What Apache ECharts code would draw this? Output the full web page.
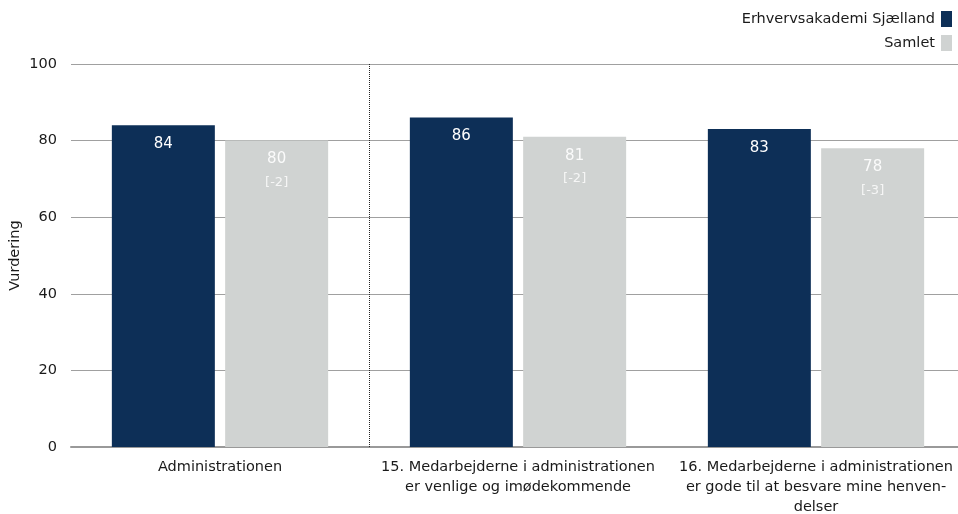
<!DOCTYPE html>
<html>
<head>
<meta charset="utf-8">
<script src="https://cdn.jsdelivr.net/npm/echarts@6/dist/echarts.min.js"></script>
<style>
  html, body { margin: 0; padding: 0; background: #fff; }
  #main { width: 958px; height: 514px; }
</style>
</head>
<body>
<div id="main"></div>
<script>
var categories = [
  'Administrationen',
  '15. Medarbejderne i administrationen\ner venlige og imødekommende',
  '16. Medarbejderne i administrationen\ner gode til at besvare mine henven-\ndelser'
];
var schoolValues = [84, 86, 83];
var totalValues = [80, 81, 78];
var totalDiffs = ['[-2]', '[-2]', '[-3]'];
// dotted separator after the first category (position on a 0..3 helper axis)
var separatorAt = [1];

var font = 'DejaVu Sans';
var textColor = '#1a1a1a';
var myChart = echarts.init(document.getElementById('main'));

var option = {
  animation: false,
  textStyle: { fontFamily: font },
  legend: {
    orient: 'vertical',
    right: 1,
    top: 6,
    align: 'right',
    itemWidth: 11,
    itemHeight: 16,
    itemGap: 8,
    icon: 'rect',
    textStyle: { fontFamily: font, fontSize: 14.5, color: textColor, padding: [0, 1, 0, 0] },
    data: ['Erhvervsakademi Sjælland', 'Samlet']
  },
  grid: { left: 71, width: 894, top: 64, bottom: 67, outerBoundsMode: 'none', containLabel: false },
  xAxis: [
    {
      type: 'category',
      data: categories,
      axisTick: { show: false },
      axisLine: { lineStyle: { color: '#999', width: 2 } },
      axisLabel: { color: textColor, fontSize: 14.5, lineHeight: 20, margin: 10, interval: 0 }
    },
    {
      type: 'value',
      min: 0,
      max: 3,
      show: false
    }
  ],
  yAxis: {
    type: 'value',
    min: 0,
    max: 100,
    interval: 20,
    name: 'Vurdering',
    nameLocation: 'middle',
    nameGap: 48,
    nameMoveOverlap: false,
    nameTextStyle: { color: textColor, fontSize: 14.5 },
    axisLine: { show: false },
    axisTick: { show: false },
    axisLabel: { color: textColor, fontSize: 14.5, margin: 14 },
    splitLine: { lineStyle: { color: '#a0a0a0', width: 1 } }
  },
  series: [
    {
      name: 'Erhvervsakademi Sjælland',
      type: 'bar',
      data: schoolValues,
      barWidth: 103,
      barGap: '10%',
      itemStyle: { color: '#0d2f57' },
      label: {
        show: true,
        position: 'insideTop',
        distance: 11,
        color: '#fff',
        fontSize: 15,
        fontFamily: font
      }
    },
    {
      name: 'Samlet',
      type: 'bar',
      data: totalValues,
      barWidth: 103,
      barGap: '10%',
      itemStyle: { color: '#d0d3d2' },
      label: {
        show: true,
        position: 'insideTop',
        distance: 9,
        formatter: function (p) {
          return '{v|' + p.value + '}\n{d|' + totalDiffs[p.dataIndex] + '}';
        },
        rich: {
          v: { color: 'rgba(255,255,255,0.9)', fontSize: 15, fontFamily: font, lineHeight: 20 },
          d: { color: 'rgba(255,255,255,0.8)', fontSize: 13, fontFamily: font, lineHeight: 26 }
        }
      }
    },
    {
      type: 'line',
      xAxisIndex: 1,
      data: [],
      silent: true,
      markLine: {
        silent: true,
        symbol: 'none',
        label: { show: false },
        lineStyle: { type: 'dotted', color: '#222', width: 1 },
        data: separatorAt.map(function (v) { return { xAxis: v }; })
      }
    }
  ]
};

myChart.setOption(option);
</script>
</body>
</html>
